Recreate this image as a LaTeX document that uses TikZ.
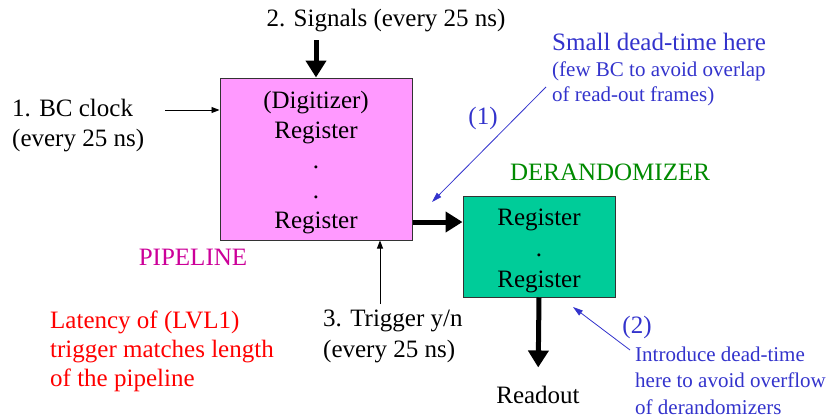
\documentclass[tikz,border=0pt]{standalone}
\usepackage{fontspec}
\setmainfont{Liberation Serif}
\usetikzlibrary{arrows.meta}
\definecolor{pipefill}{HTML}{FF99FF}
\definecolor{derfill}{HTML}{00CC99}
\definecolor{noteblue}{HTML}{3333CC}
\definecolor{pipelabel}{HTML}{CC0099}
\definecolor{derlabel}{HTML}{008A00}
\definecolor{latred}{HTML}{FF0000}
\tikzset{
  big/.style={font=\fontsize{25}{30}\selectfont},
  small/.style={font=\fontsize{21}{26}\selectfont},
  txt/.style={inner sep=0pt, align=left},
  block/.style={draw=black!80, line width=1pt, rectangle, inner sep=0pt},
  bigarrow/.style={line width=5pt, -{Triangle[length=17pt,width=20pt]}},
  thinarrow/.style={line width=0.9pt, -{Triangle[length=8pt,width=6pt]}},
  notearrow/.style={noteblue, line width=0.8pt, -{Triangle[length=10pt,width=6pt]}},
}
\begin{document}
\begin{tikzpicture}[x=1pt, y=-1pt]
\useasboundingbox (0,0) rectangle (830,418);

% pipeline block
\node[block, fill=pipefill, minimum width=192pt, minimum height=162pt] (pipe) at (316,159) {};
\node[txt, big, align=center, anchor=north] (pipetext) at (316,90.7)
  {(Digitizer)\\Register\\.\\.\\Register};
\node[txt, big, text=pipelabel, anchor=base] (pipelabel) at (193,265) {PIPELINE};

% derandomizer block
\node[block, fill=derfill, minimum width=152pt, minimum height=101pt] (der) at (539,246.5) {};
\node[txt, align=center, anchor=north, font=\fontsize{25}{31}\selectfont] (dertext) at (539,208.7)
  {Register\\.\\Register};
\node[txt, big, text=derlabel, anchor=base] (derlabel) at (610,180) {DERANDOMIZER};

% inputs
\node[txt, big, anchor=base] (signals) at (386,26) {2. Signals (every 25 ns)};
\node[txt, big, anchor=north west] (clock) at (12,98.7) {1. BC clock\\(every 25 ns)};
\node[txt, anchor=north west, font=\fontsize{25}{31}\selectfont] (trigger) at (323,309.7)
  {3. Trigger y/n\\(every 25 ns)};
\node[txt, anchor=north west, text=latred, font=\fontsize{25}{29}\selectfont] (latency) at (50,310.7)
  {Latency of (LVL1)\\trigger matches length\\of the pipeline};
\node[txt, big, anchor=base] (readout) at (538,403) {Readout};

% notes on dead-time
\node[txt, big, text=noteblue, anchor=base west] (note1title) at (552,50) {Small dead-time here};
\node[txt, text=noteblue, anchor=north west, font=\fontsize{21}{25}\selectfont] (note1) at (552,61.5)
  {(few BC to avoid overlap\\of read-out frames)};
\node[txt, big, text=noteblue, anchor=base] (mark1) at (483,124) {(1)};
\node[txt, big, text=noteblue, anchor=base] (mark2) at (637,333) {(2)};
\node[txt, text=noteblue, anchor=north west, font=\fontsize{21}{26.5}\selectfont] (note2) at (635,346.5)
  {Introduce dead-time\\here to avoid overflow\\of derandomizers};

% connector end points
\coordinate (clk) at (165,110);
\coordinate (trigx) at (380,0);
\coordinate (link) at (0,222);
\coordinate (n1from) at (546,87);
\coordinate (n1to) at (432,202);
\coordinate (n2from) at (630,350);
\coordinate (n2to) at (573,307);

% data flow
\draw[bigarrow, shorten <=8.6pt] (signals.south -| pipe.north) -- (pipe.north);
\draw[bigarrow] (pipe.east |- link) -- (der.west |- link);
\draw[bigarrow, shorten >=18pt] (der.south) -- (readout.north);

% clock and trigger
\draw[thinarrow] (clk) -- (clk -| pipe.west);
\draw[thinarrow, shorten <=5.7pt] (trigger.north -| trigx) -- (pipe.south -| trigx);

% note pointers
\draw[notearrow] (n1from) -- (n1to);
\draw[notearrow] (n2from) -- (n2to);
\end{tikzpicture}
\end{document}
